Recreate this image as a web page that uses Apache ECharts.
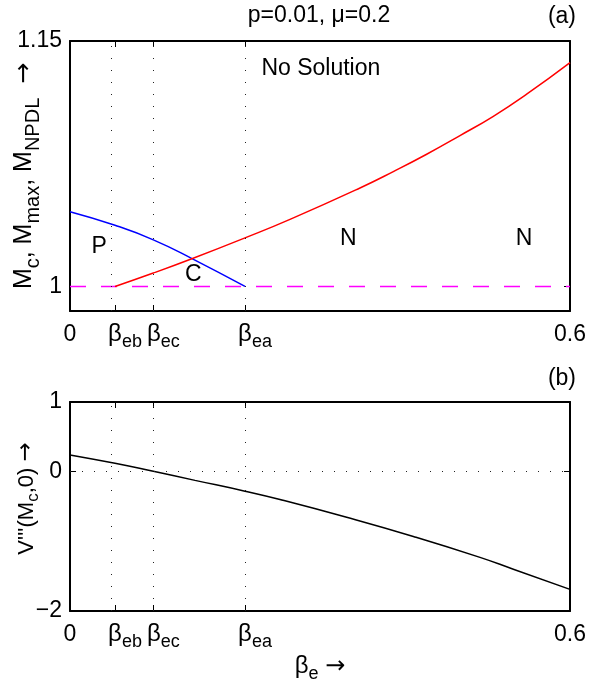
<!DOCTYPE html>
<html><head><meta charset="utf-8">
<script src="https://cdn.jsdelivr.net/npm/echarts@6/dist/echarts.min.js"></script>
<style>html,body{margin:0;padding:0;background:#fff}#c{width:590px;height:684px}</style>
</head><body><div id="c"></div>
<script>
// ---- data ----
const betaEb = 0.054, betaEc = 0.1, betaEa = 0.21;
const xTickValues = [0, betaEb, betaEc, betaEa, 0.6];
const xTickLabels = ['0', 'eb', 'ec', 'ea', '0.6'];
const betaValues = [betaEb, betaEc, betaEa];
const topYTicks = [1, 1.15];
const bottomYTicks = [-2, 0, 1];
const blueX = [0, 0.054, 0.1, 0.147, 0.21];
const blueY = [1.0457, 1.0374, 1.0285, 1.0169, 1.0];
const redX = [0.054, 0.1, 0.147, 0.21, 0.264, 0.348, 0.388, 0.428, 0.468, 0.508, 0.548, 0.6];
const redY = [1.0, 1.0082, 1.0171, 1.0297, 1.0410, 1.0602, 1.0702, 1.0808, 1.0922, 1.1040, 1.1175, 1.1368];
const dashX = [0, 0.6];
const dashY = [1, 1];
const vX = [0, 0.054, 0.1, 0.15, 0.21, 0.252, 0.332, 0.412, 0.492, 0.532, 0.6];
const vY = [0.24, 0.12, 0.005, -0.125, -0.28, -0.40, -0.655, -0.93, -1.23, -1.40, -1.69];
const regionNames = ['P', 'C', 'N', 'N', 'No Solution'];
const regionX = [0.035, 0.148, 0.334, 0.545, 0.301];
const regionY = [1.0242, 1.0071, 1.029, 1.029, 1.1334];

// ---- chart ----
const FONT = '"Liberation Sans", Arial, Helvetica, sans-serif';
const zip = (a, b) => a.map((v, i) => [v, b[i]]);
const chart = echarts.init(document.getElementById('c'), null, {renderer: 'canvas'});

const richX = {
  n: {fontSize: 23, fontFamily: FONT, color: '#000', lineHeight: 36},
  b: {fontSize: 24, fontFamily: FONT, color: '#000'},
  s: {fontSize: 18, fontFamily: FONT, color: '#000', padding: [16, 0, 0, 0]},
  sp: {fontSize: 18, fontFamily: FONT, width: 20}
};
function xFmt(v) {
  let idx = 0, best = 1e9;
  xTickValues.forEach((t, i) => { const d = Math.abs(t - v); if (d < best) { best = d; idx = i; } });
  const lab = xTickLabels[idx];
  if (idx === 0 || idx === xTickValues.length - 1) return '{n|' + lab + '}';
  return '{sp| }{b|β}{s|' + lab + '}';
}
const axisLineStyle = {show: true, onZero: false, lineStyle: {color: '#000', width: 2}};
function nameRich(main, sub, arrow) {
  return {
    t: {fontSize: main, fontFamily: FONT, color: '#000'},
    s: {fontSize: sub, fontFamily: FONT, color: '#000', padding: [Math.round(sub * 0.85), 0, 0, 0]},
    a: {fontSize: arrow || main, fontFamily: '"DejaVu Sans", sans-serif', color: '#000'}
  };
}
function xAxisBottom(gi, name) {
  return {
    type: 'value', gridIndex: gi, position: 'bottom', min: 0, max: 0.6,
    axisLine: axisLineStyle,
    axisTick: {show: true, inside: true, length: 6, customValues: xTickValues, lineStyle: {color: '#000', width: 1}},
    axisLabel: {show: true, customValues: xTickValues, formatter: xFmt, rich: richX, margin: 6, hideOverlap: false, showMinLabel: true, showMaxLabel: true},
    splitLine: {show: false},
    name: name || '', nameLocation: 'middle', nameGap: 39, nameMoveOverlap: false,
    nameTextStyle: {rich: nameRich(24, 18)}
  };
}
function xAxisTop(gi) {
  return {
    type: 'value', gridIndex: gi, position: 'top', min: 0, max: 0.6,
    axisLine: axisLineStyle,
    axisTick: {show: true, inside: true, length: 6, customValues: xTickValues, lineStyle: {color: '#000', width: 1}},
    axisLabel: {show: false}, splitLine: {show: false}
  };
}
function yLeft(gi, min, max, ticks, name, gap, main, sub, arrow, pad) {
  return {
    type: 'value', gridIndex: gi, position: 'left', min: min, max: max,
    axisLine: axisLineStyle,
    axisTick: {show: true, inside: true, length: 6, customValues: ticks, lineStyle: {color: '#000', width: 1}},
    axisLabel: {show: true, customValues: ticks, margin: 8, fontSize: 23, fontFamily: FONT, color: '#000',
      formatter: v => (v < 0 ? '\u2212' + Math.abs(v) : String(v)), showMinLabel: true, showMaxLabel: true},
    splitLine: {show: false},
    name: name, nameLocation: 'middle', nameGap: gap, nameRotate: 90, nameMoveOverlap: false,
    nameTextStyle: {padding: pad, rich: nameRich(main, sub, arrow)}
  };
}
function yRight(gi, min, max, ticks) {
  return {
    type: 'value', gridIndex: gi, position: 'right', min: min, max: max,
    axisLine: axisLineStyle,
    axisTick: {show: true, inside: true, length: 6, customValues: ticks, lineStyle: {color: '#000', width: 1}},
    axisLabel: {show: false}, splitLine: {show: false}
  };
}
const dotted = {type: [1, 11], color: '#222', width: 1};
const labelStyle = {show: true, position: 'inside', formatter: '{b}', fontSize: 23, fontFamily: FONT, color: '#000',
  textBorderWidth: 0, opacity: 1};

const option = {
  animation: false,
  backgroundColor: '#fff',
  grid: [
    {left: 70, right: 20, top: 41, height: 270, containLabel: false},
    {left: 70, right: 20, top: 402, height: 210.5, containLabel: false}
  ],
  xAxis: [xAxisBottom(0), xAxisTop(0), xAxisBottom(1, '{t|β}{s|e}{t| }{a|→}'), xAxisTop(1)],
  yAxis: [
    yLeft(0, 0.985, 1.15, topYTicks, '{t|M}{s|c}{t|, M}{s|max}{t|, M}{s|NPDL}{t|  }{a|→}', 27, 25, 20, 25, [0, 0, 0, 0]),
    yRight(0, 0.985, 1.15, topYTicks),
    yLeft(1, -2, 1, bottomYTicks, "{t|V'''(M}{s|c}{t|,0) }{a|→}", 28, 22, 17, 23, [0, 0, 0, 16]),
    yRight(1, -2, 1, bottomYTicks)
  ],
  series: [
    {type: 'line', xAxisIndex: 0, yAxisIndex: 0, data: zip(dashX, dashY), showSymbol: false, symbol: 'none',
      lineStyle: {color: '#ff00ff', width: 1.5, type: [16, 15]}, z: 3,
      markLine: {silent: true, symbol: 'none', label: {show: false}, lineStyle: dotted,
        data: betaValues.map(v => ({xAxis: v}))}},
    {type: 'line', xAxisIndex: 0, yAxisIndex: 0, data: zip(blueX, blueY), showSymbol: false, symbol: 'none', smooth: 0.5,
      lineStyle: {color: '#0000ff', width: 1.5}, z: 4},
    {type: 'line', xAxisIndex: 0, yAxisIndex: 0, data: zip(redX, redY), showSymbol: false, symbol: 'none', smooth: 0.5,
      lineStyle: {color: '#ff0000', width: 1.5}, z: 4},
    {type: 'scatter', xAxisIndex: 0, yAxisIndex: 0, symbolSize: 1, itemStyle: {color: 'rgba(0,0,0,0)'},
      data: regionNames.map((n, i) => ({name: n, value: [regionX[i], regionY[i]]})),
      label: labelStyle, emphasis: {disabled: true}, z: 5},
    {type: 'line', xAxisIndex: 2, yAxisIndex: 2, data: zip(vX, vY), showSymbol: false, symbol: 'none', smooth: 0.5,
      lineStyle: {color: '#000', width: 1.5}, z: 4,
      markLine: {silent: true, symbol: 'none', label: {show: false}, lineStyle: dotted,
        data: betaValues.map(v => ({xAxis: v})).concat([{yAxis: 0}])}}
  ],
  graphic: [
    {type: 'text', x: 319, y: 16, style: {text: 'p=0.01, μ=0.2', font: '23px ' + FONT, fill: '#000', align: 'center', verticalAlign: 'middle'}},
    {type: 'text', x: 576, y: 17, style: {text: '(a)', font: '23px ' + FONT, fill: '#000', align: 'right', verticalAlign: 'middle'}},
    {type: 'text', x: 576, y: 379, style: {text: '(b)', font: '23px ' + FONT, fill: '#000', align: 'right', verticalAlign: 'middle'}}
  ]
};
chart.setOption(option);
</script></body></html>
